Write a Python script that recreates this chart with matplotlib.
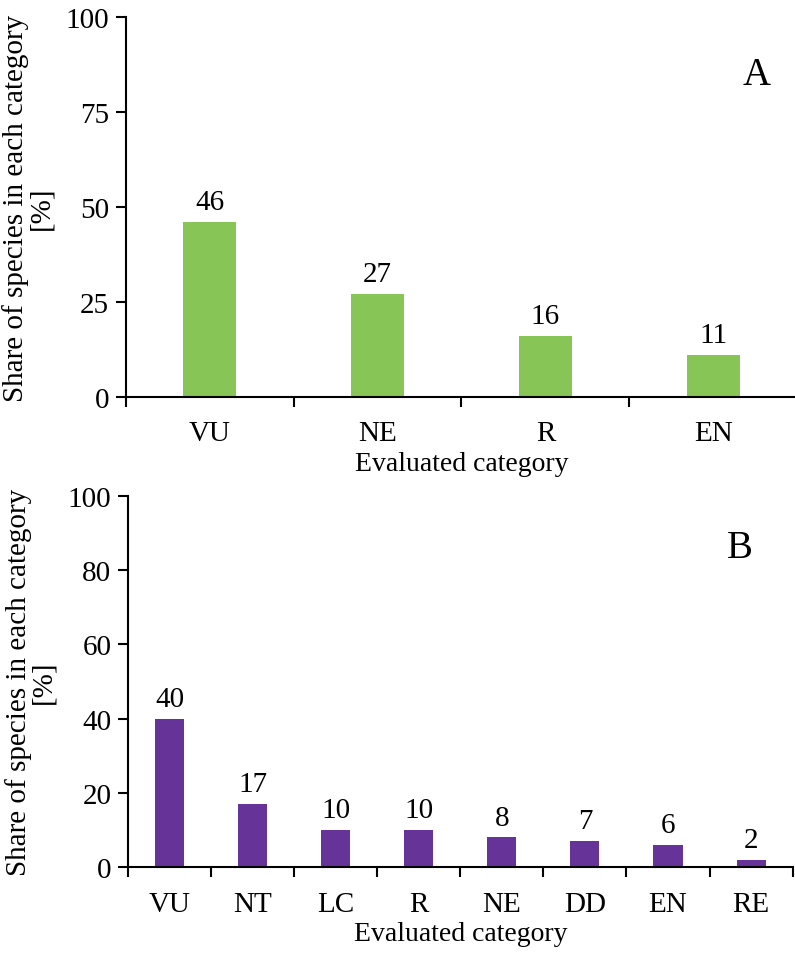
import matplotlib.pyplot as plt

plt.rcParams['font.family'] = ['Liberation Serif', 'DejaVu Serif']

cats_a = ['VU', 'NE', 'R', 'EN']
vals_a = [46, 27, 16, 11]
cats_b = ['VU', 'NT', 'LC', 'R', 'NE', 'DD', 'EN', 'RE']
vals_b = [40, 17, 10, 10, 8, 7, 6, 2]

green = '#88c557'
purple = '#663399'


def draw_panel(ax, cats, vals, color, yticks, letter, letter_xy, width):
    n = len(cats)
    pos = [i + 0.5 for i in range(n)]
    ax.bar(pos, vals, width=width, color=color)
    for x, v in zip(pos, vals):
        ax.annotate(str(v), (x, v), xytext=(0, 5), textcoords='offset points',
                    ha='center', va='bottom', fontsize=21)
    ax.set_xlim(0, n)
    ax.set_ylim(0, 100)
    ax.set_yticks(yticks)
    ax.set_xticks(range(n + 1))
    ax.set_xticklabels([])
    ax.set_xticks(pos, minor=True)
    ax.set_xticklabels(cats, minor=True)
    ax.tick_params(axis='x', which='minor', length=0, pad=17, labelsize=21)
    ax.tick_params(axis='x', which='major', length=7, width=1.5, direction='out')
    ax.tick_params(axis='y', length=7, width=1.5, labelsize=21, pad=5)
    for s in ['top', 'right']:
        ax.spines[s].set_visible(False)
    for s in ['left', 'bottom']:
        ax.spines[s].set_linewidth(1.5)
    ax.set_xlabel('Evaluated category', fontsize=20, labelpad=3)
    ax.set_ylabel('Share of species in each category\n[%]', fontsize=21,
                  labelpad=8, linespacing=0.95)
    ax.text(letter_xy[0], letter_xy[1], letter, transform=ax.transAxes,
            fontsize=28, ha='center', va='center')


fig = plt.figure(figsize=(7.95, 9.54), dpi=100)
ax1 = fig.add_axes([0.158, 0.583, 0.845, 0.398])
ax2 = fig.add_axes([0.161, 0.090, 0.836, 0.389])

draw_panel(ax1, cats_a, vals_a, green, [0, 25, 50, 75, 100], 'A', (0.94, 0.85), 0.32)
draw_panel(ax2, cats_b, vals_b, purple, [0, 20, 40, 60, 80, 100], 'B', (0.92, 0.86), 0.35)

fig.savefig('out.png', dpi=100)
